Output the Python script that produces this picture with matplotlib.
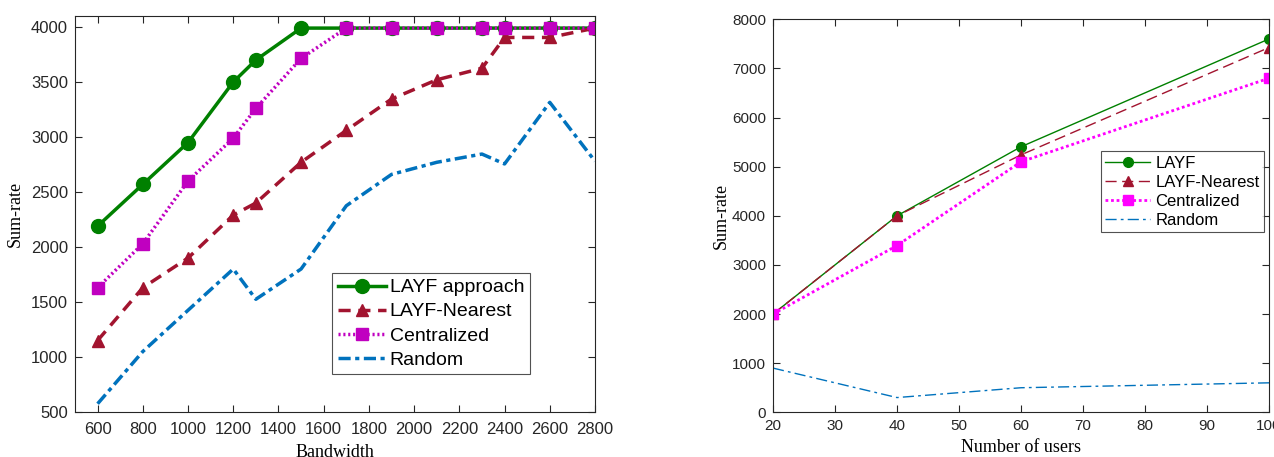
import numpy as np
import matplotlib.pyplot as plt

# left panel: sum-rate vs bandwidth
bandwidth = [600, 800, 1000, 1200, 1300, 1500, 1700, 1900, 2100, 2300, 2400, 2600, 2800]
layf_bw = [2190, 2570, 2950, 3500, 3700, 3990, 3990, 3990, 3990, 3990, 3990, 3990, 3990]
nearest_bw = [1150, 1630, 1900, 2290, 2400, 2770, 3060, 3345, 3520, 3625, 3905, 3905, 3990]
central_bw = [1630, 2030, 2600, 2990, 3260, 3715, 3990, 3990, 3990, 3990, 3990, 3990, 3990]
random_bw = [575, 1050, 1425, 1800, 1525, 1800, 2375, 2660, 2770, 2845, 2755, 3315, 2780]

# right panel: sum-rate vs number of users
users = [20, 40, 60, 100]
layf_u = [2000, 4000, 5405, 7600]
nearest_u = [2000, 4000, 5240, 7425]
central_u = [2000, 3395, 5100, 6800]
random_u = [900, 300, 500, 600]

GREEN = '#008000'
RED = '#A2142F'
MAG = '#C000C0'
BLUE = '#0072BD'

tickfont = 'Liberation Sans'
labelfont = 'Liberation Serif'

fig = plt.figure(figsize=(12.74, 4.57), dpi=100)
W, H = 1274, 457
ax1 = fig.add_axes([75 / W, 1 - 412 / H, (595 - 75) / W, (412 - 16) / H])
ax2 = fig.add_axes([773 / W, 1 - 412.3 / H, (1269 - 773) / W, (412.3 - 19.3) / H])

lw = 2.5
ax1.plot(bandwidth, layf_bw, '-', color=GREEN, lw=lw, marker='o', ms=10, label='LAYF approach')
ax1.plot(bandwidth, nearest_bw, color=RED, lw=lw, ls=(0, (3.5, 2.2)), marker='^', ms=8.5,
         label='LAYF-Nearest')
ax1.plot(bandwidth, central_bw, color=MAG, lw=lw, ls=(0, (0.6, 0.8)), marker='s', ms=8,
         label='Centralized')
ax1.plot(bandwidth, random_bw, color=BLUE, lw=lw, ls=(0, (3.5, 1.3, 1.2, 1.3)), label='Random')

ax1.set_xlim(500, 2800)
ax1.set_ylim(500, 4100)
ax1.set_xticks(np.arange(600, 2801, 200))
ax1.set_yticks(np.arange(500, 4001, 500))
ax1.set_xlabel('Bandwidth', family=labelfont, fontsize=13, labelpad=5)
ax1.set_ylabel('Sum-rate', family=labelfont, fontsize=13, labelpad=5)
leg1 = ax1.legend(loc='lower right', bbox_to_anchor=(0.875, 0.095),
                  prop={'family': tickfont, 'size': 14}, frameon=True, fancybox=False,
                  edgecolor='#262626', handlelength=2.45, labelspacing=0.33,
                  borderpad=0.3, handletextpad=0.2, borderaxespad=0)
leg1.get_frame().set_linewidth(0.8)

ax2.plot(users, layf_u, '-', color=GREEN, lw=1, marker='o', ms=7, label='LAYF')
ax2.plot(users, nearest_u, color=RED, lw=1, ls=(0, (8, 4)), marker='^', ms=7,
         label='LAYF-Nearest')
ax2.plot(users, central_u, color='#FF00FF', lw=2, ls=(0, (1, 1)), marker='s', ms=7,
         label='Centralized')
ax2.plot(users, random_u, color=BLUE, lw=1, ls=(0, (8, 3, 2, 3)), label='Random')

ax2.set_xlim(20, 100)
ax2.set_ylim(0, 8000)
ax2.set_xticks(np.arange(20, 101, 10))
ax2.set_yticks(np.arange(0, 8001, 1000))
ax2.set_xlabel('Number of users', family=labelfont, fontsize=13, labelpad=4)
ax2.set_ylabel('Sum-rate', family=labelfont, fontsize=13, labelpad=2)
leg2 = ax2.legend(loc='upper right', bbox_to_anchor=(0.989, 0.664),
                  prop={'family': tickfont, 'size': 12}, frameon=True, fancybox=False,
                  edgecolor='#262626', handlelength=2.7, labelspacing=0.25,
                  borderpad=0.25, handletextpad=0.3, borderaxespad=0)
leg2.get_frame().set_linewidth(0.8)

for ax, size, xpad in ((ax1, 12, 7), (ax2, 11, 5)):
    ax.tick_params(direction='in', top=True, right=True, length=5, width=0.8,
                   colors='#262626', labelsize=size, pad=5)
    ax.tick_params(axis='x', pad=xpad)
    for lab in ax.get_xticklabels() + ax.get_yticklabels():
        lab.set_family(tickfont)
    for sp in ax.spines.values():
        sp.set_color('#262626')
        sp.set_linewidth(0.8)

fig.savefig('out.png', dpi=100)
